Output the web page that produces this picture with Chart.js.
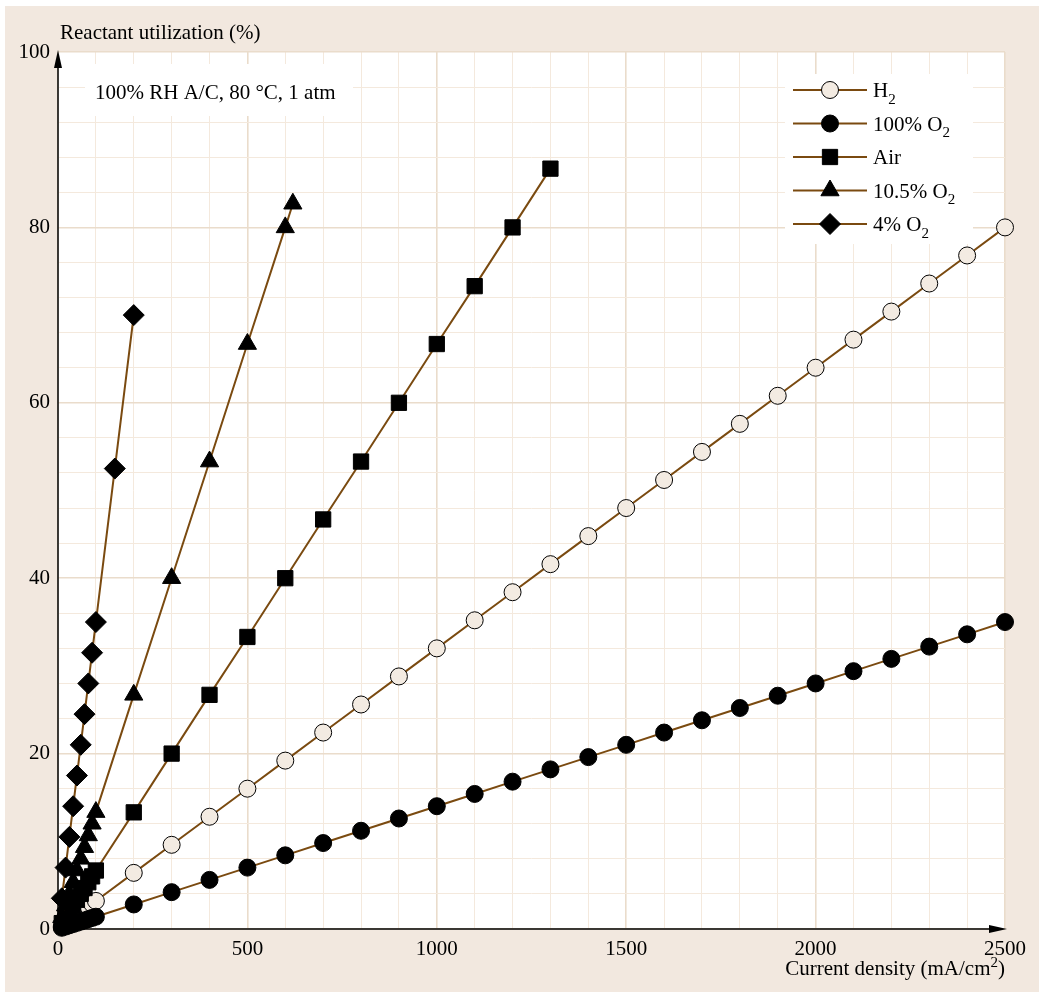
<!DOCTYPE html>
<html>
<head>
<meta charset="utf-8">
<script src="https://cdn.jsdelivr.net/npm/chart.js@4/dist/chart.umd.min.js"></script>
<style>
html,body{margin:0;padding:0;background:#fff;}
canvas{display:block;}
</style>
</head>
<body>
<canvas id="c" width="1039" height="992"></canvas>
<script>
// ---------- data ----------
const seriesLabels = ['H₂', '100% O₂', 'Air', '10.5% O₂', '4% O₂'];

const h2Current = [10,20,30,40,50,60,70,80,90,100,200,300,400,500,600,700,800,900,1000,1100,1200,1300,1400,1500,1600,1700,1800,1900,2000,2100,2200,2300,2400,2500];
const h2Util    = [0.32,0.64,0.96,1.28,1.6,1.92,2.24,2.56,2.88,3.2,6.4,9.6,12.8,16,19.2,22.4,25.6,28.8,32,35.2,38.4,41.6,44.8,48,51.2,54.4,57.6,60.8,64,67.2,70.4,73.6,76.8,80];

const o2Current = [10,20,30,40,50,60,70,80,90,100,200,300,400,500,600,700,800,900,1000,1100,1200,1300,1400,1500,1600,1700,1800,1900,2000,2100,2200,2300,2400,2500];
const o2Util    = [0.14,0.28,0.42,0.56,0.7,0.84,0.98,1.12,1.26,1.4,2.8,4.2,5.6,7,8.4,9.8,11.2,12.6,14,15.4,16.8,18.2,19.6,21,22.4,23.8,25.2,26.6,28,29.4,30.8,32.2,33.6,35];

const airCurrent = [10,20,30,40,50,60,70,80,90,100,200,300,400,500,600,700,800,900,1000,1100,1200,1300];
const airUtil    = [0.67,1.33,2,2.67,3.33,4,4.67,5.33,6,6.67,13.3,20,26.7,33.3,40,46.7,53.3,60,66.7,73.3,80,86.7];

const o105Current = [10,20,30,40,50,60,70,80,90,100,200,300,400,500,600,620];
const o105Util    = [1.33,2.67,4,5.33,6.67,8,9.33,10.67,12,13.33,26.7,40,53.3,66.7,80,82.7];

const o4Current = [10,20,30,40,50,60,70,80,90,100,150,200];
const o4Util    = [3.5,7,10.5,14,17.5,21,24.5,28,31.5,35,52.5,70];

const xTickStep = 100, xLabelStep = 500;
const yTickStep = 4, yLabelStep = 20;

const yTitle = 'Reactant utilization (%)';
const xTitle = 'Current density (mA/cm²)';
const noteText = '100% RH A/C, 80 °C, 1 atm';

// ---------- styles ----------
const BROWN = '#7a4a10';
const BEIGE = '#f2e8df';
const GRID_MINOR = '#f4e9dd';
const GRID_MAJOR = '#eadccb';
const FONT = '"Liberation Serif", "Times New Roman", serif';

function pts(xs, ys){ return xs.map((x,i)=>({x:x, y:ys[i]})); }

const styles = [
  {pointStyle:'circle', radius:8.5, fill:'#f3ebe2'},
  {pointStyle:'circle', radius:8.5, fill:'#000'},
  {pointStyle:'rect', radius:10.8, fill:'#000'},
  {pointStyle:'triangle', radius:10.5, fill:'#000'},
  {pointStyle:'rectRot', radius:10.5, fill:'#000'}
];
const seriesData = [pts(h2Current,h2Util), pts(o2Current,o2Util), pts(airCurrent,airUtil), pts(o105Current,o105Util), pts(o4Current,o4Util)];

const datasets = seriesData.map((d,i)=>({
  label: seriesLabels[i],
  data: d,
  order: seriesData.length - i,
  showLine: true,
  borderColor: BROWN,
  borderWidth: 2,
  pointStyle: styles[i].pointStyle,
  pointRadius: styles[i].radius,
  pointBackgroundColor: styles[i].fill,
  pointBorderColor: '#000',
  pointBorderWidth: 1,
  clip: false,
  tension: 0
}));

// rich text: subscript (₀-₉) and superscript (²)
function drawRich(ctx, text, x, y, align, size){
  const parts = [];
  for (const ch of text){
    const c = ch.codePointAt(0);
    if (c >= 0x2080 && c <= 0x2089) parts.push({t:String(c-0x2080), k:'sub'});
    else if (ch === '²') parts.push({t:'2', k:'sup'});
    else parts.push({t:ch, k:'n'});
  }
  const small = Math.round(size*0.72);
  let w = 0;
  const widths = parts.map(p=>{ ctx.font = (p.k==='n'?size:small)+'px '+FONT; const m = ctx.measureText(p.t).width; w += m; return m; });
  let cx = align === 'right' ? x - w : x;
  ctx.textAlign = 'left';
  ctx.textBaseline = 'alphabetic';
  parts.forEach((p,i)=>{
    ctx.font = (p.k==='n'?size:small)+'px '+FONT;
    const dy = p.k==='sub' ? size*0.32 : (p.k==='sup' ? -size*0.36 : 0);
    ctx.fillText(p.t, cx, y+dy);
    cx += widths[i];
  });
}

const decor = {
  id: 'decor',
  beforeDraw(chart){
    const ctx = chart.ctx, a = chart.chartArea;
    ctx.save();
    ctx.fillStyle = '#fff';
    ctx.fillRect(0,0,chart.width,chart.height);
    ctx.fillStyle = BEIGE;
    ctx.fillRect(5,6,chart.width-5,chart.height-6);
    ctx.fillStyle = '#fff';
    ctx.fillRect(a.left,a.top,a.right-a.left,a.bottom-a.top);
    ctx.restore();
  },
  beforeDatasetsDraw(chart){
    const ctx = chart.ctx, a = chart.chartArea;
    ctx.save();
    // white boxes
    ctx.fillStyle = '#fff';
    ctx.fillRect(85,64,268,52);
    ctx.fillRect(785,74,188,170);
    // note
    ctx.fillStyle = '#000';
    drawRich(ctx, noteText, 95, 99, 'left', 21);
    // legend
    const rowY = [90, 123.5, 157, 190.5, 224];
    seriesLabels.forEach((lab,i)=>{
      const y = rowY[i];
      ctx.strokeStyle = BROWN; ctx.lineWidth = 2;
      ctx.beginPath(); ctx.moveTo(793,y); ctx.lineTo(867,y); ctx.stroke();
      ctx.fillStyle = styles[i].fill; ctx.strokeStyle = '#000'; ctx.lineWidth = 1;
      Chart.helpers.drawPoint(ctx, {pointStyle: styles[i].pointStyle, radius: styles[i].radius, rotation: 0, borderWidth: 1}, 830, y);
      ctx.fillStyle = '#000';
      drawRich(ctx, lab, 873, y+7, 'left', 21);
    });
    // axes
    ctx.strokeStyle = '#000'; ctx.fillStyle = '#000'; ctx.lineWidth = 1.5;
    ctx.beginPath();
    ctx.moveTo(a.left, a.bottom); ctx.lineTo(a.left, a.top+6);
    ctx.moveTo(a.left, a.bottom); ctx.lineTo(a.right-6, a.bottom);
    ctx.stroke();
    ctx.beginPath();
    ctx.moveTo(a.left, a.top-2); ctx.lineTo(a.left-4, a.top+16); ctx.lineTo(a.left+4, a.top+16); ctx.closePath(); ctx.fill();
    ctx.beginPath();
    ctx.moveTo(a.right+2, a.bottom); ctx.lineTo(a.right-16, a.bottom-4); ctx.lineTo(a.right-16, a.bottom+4); ctx.closePath(); ctx.fill();
    // axis titles
    drawRich(ctx, yTitle, 60, 39, 'left', 21);
    drawRich(ctx, xTitle, a.right, 975, 'right', 21);
    ctx.restore();
  }
};

new Chart(document.getElementById('c'), {
  type: 'scatter',
  data: { datasets },
  options: {
    responsive: false,
    animation: false,
    events: [],
    layout: { padding: { left: 0, top: 52, right: 34, bottom: 0 } },
    plugins: { legend: { display: false }, tooltip: { enabled: false } },
    scales: {
      x: {
        type: 'linear', min: 0, max: 2500,
        border: { display: false },
        grid: {
          drawTicks: false,
          color: c => (c.tick && c.tick.value % xLabelStep === 0) ? GRID_MAJOR : GRID_MINOR,
          lineWidth: c => (c.tick && c.tick.value % xLabelStep === 0) ? 1.6 : 1
        },
        ticks: {
          stepSize: xTickStep, autoSkip: false, maxRotation: 0, padding: 8,
          color: '#000', font: { family: FONT, size: 21 },
          callback: v => (v % xLabelStep === 0) ? String(v) : ''
        },
        afterFit: s => { s.height = 63; }
      },
      y: {
        type: 'linear', min: 0, max: 100,
        border: { display: false },
        grid: {
          drawTicks: false,
          color: c => (c.tick && c.tick.value % yLabelStep === 0) ? GRID_MAJOR : GRID_MINOR,
          lineWidth: c => (c.tick && c.tick.value % yLabelStep === 0) ? 1.6 : 1
        },
        ticks: {
          stepSize: yTickStep, autoSkip: false, padding: 8,
          color: '#000', font: { family: FONT, size: 21 },
          callback: v => (v % yLabelStep === 0) ? String(v) : ''
        },
        afterFit: s => { s.width = 58; }
      }
    }
  },
  plugins: [decor]
});
</script>
</body>
</html>
